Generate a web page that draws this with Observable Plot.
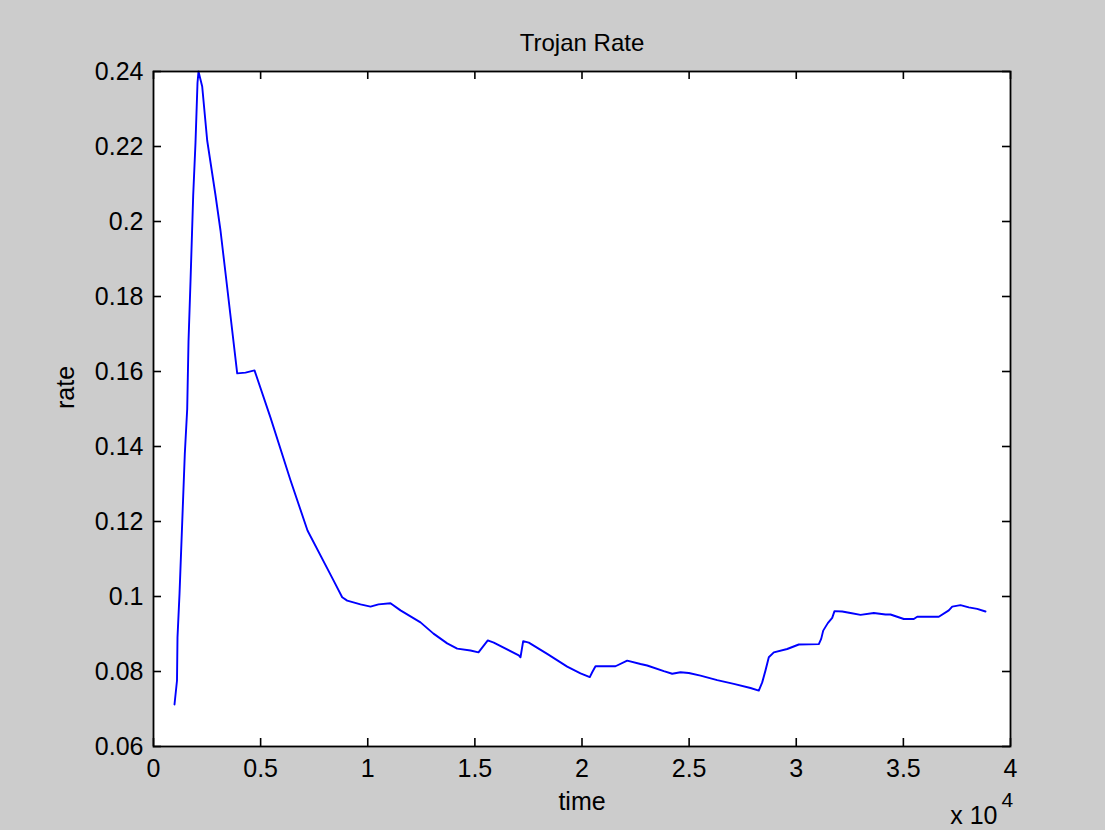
<!DOCTYPE html>
<html><head><meta charset="utf-8">
<script src="https://cdn.jsdelivr.net/npm/d3@7"></script>
<script src="https://cdn.jsdelivr.net/npm/@observablehq/plot@0.6"></script>
<style>
html,body{margin:0;padding:0;background:#cccccc;}
#chart svg{display:block;}
</style></head><body><div id="chart"></div>
<script>
const time = [980,1097,1120,1214,1461,1573,1634,1727,1853,1960,2054,2100,2273,2506,2894,3127,3407,3907,4294,4714,5461,6394,7188,8401,8807,9041,9662,10128,10502,11062,11529,12462,13069,13708,14175,14796,15169,15603,15883,17050,17129,17255,17517,18376,19309,19930,20364,20476,20630,21563,22110,22730,23043,23818,24210,24597,24985,25531,26310,27085,27864,28252,28411,28565,28719,28953,29578,30119,31053,31164,31258,31473,31678,31785,32145,32532,32999,33620,34165,34399,35020,35487,35646,36654,37121,37279,37666,38053,38445,38833];
const rate = [0.0712,0.0776,0.0891,0.1007,0.138,0.150,0.168,0.184,0.207,0.221,0.237,0.240,0.236,0.2216,0.207,0.1976,0.184,0.1595,0.1597,0.1603,0.1477,0.131,0.1176,0.1043,0.0998,0.0989,0.0979,0.0973,0.0979,0.0982,0.0963,0.0931,0.0901,0.0875,0.0861,0.0856,0.0851,0.0883,0.0877,0.0843,0.0838,0.0881,0.0877,0.0847,0.0813,0.0795,0.0785,0.0798,0.0814,0.0814,0.0829,0.0820,0.0816,0.0801,0.0794,0.0798,0.0796,0.0789,0.0777,0.0767,0.0756,0.0749,0.0771,0.0803,0.0838,0.0851,0.0860,0.0872,0.0873,0.0887,0.0909,0.0929,0.0943,0.0961,0.0960,0.0956,0.0951,0.0956,0.0952,0.0952,0.0940,0.0940,0.0946,0.0946,0.0963,0.0973,0.0977,0.0971,0.0967,0.0960];
const xTicks = [0,5000,10000,15000,20000,25000,30000,35000,40000];
const xTickLabels = ["0","0.5","1","1.5","2","2.5","3","3.5","4"];
const yTicks = [0.06,0.08,0.10,0.12,0.14,0.16,0.18,0.20,0.22,0.24];
const yTickLabels = ["0.06","0.08","0.1","0.12","0.14","0.16","0.18","0.2","0.22","0.24"];
const titleText = "Trojan Rate";
const xLabel = "time";
const yLabel = "rate";
const xExponentBase = "x 10";
const xExponent = "4";

const data = time.map((t, i) => ({time: t, rate: rate[i]}));
const W = 1105, H = 830, mL = 153, mR = 95, mT = 71, mB = 84;
const fw = W - mL - mR, fh = H - mT - mB, tick = 8;

const chart = Plot.plot({
  width: W, height: H,
  marginLeft: mL, marginRight: mR, marginTop: mT, marginBottom: mB,
  style: {background: "transparent", fontFamily: "'Liberation Sans', Arial, sans-serif", fontSize: "25px", color: "black"},
  x: {domain: [0, 40000], axis: null},
  y: {domain: [0.06, 0.24], axis: null},
  marks: [
    Plot.frame({fill: "white", stroke: null}),
    Plot.axisX(xTicks, {anchor: "bottom", tickSize: 0, tickPadding: 13, tickFormat: d => xTickLabels[xTicks.indexOf(d)], label: null, fontSize: 25}),
    Plot.axisY(yTicks, {anchor: "left", tickSize: 0, tickPadding: 10, tickFormat: d => yTickLabels[yTicks.indexOf(d)], label: null, fontSize: 25}),
    Plot.ruleX(xTicks, {x: d => d, insetTop: fh - tick, stroke: "black", strokeWidth: 1.6}),
    Plot.ruleX(xTicks, {x: d => d, insetBottom: fh - tick, stroke: "black", strokeWidth: 1.6}),
    Plot.ruleY(yTicks, {y: d => d, insetRight: fw - tick, stroke: "black", strokeWidth: 1.6}),
    Plot.ruleY(yTicks, {y: d => d, insetLeft: fw - tick, stroke: "black", strokeWidth: 1.6}),
    Plot.line(data, {x: "time", y: "rate", stroke: "#0000ff", strokeWidth: 1.9}),
    Plot.frame({stroke: "black", strokeWidth: 1.8}),
    Plot.text([titleText], {frameAnchor: "top", dy: -28, text: d => d, fontSize: 24, lineAnchor: "middle"}),
    Plot.text([xLabel], {frameAnchor: "bottom", dy: 55, text: d => d, fontSize: 25, lineAnchor: "middle"}),
    Plot.text([yLabel], {frameAnchor: "left", dx: -88, rotate: -90, text: d => d, fontSize: 25, lineAnchor: "middle"}),
    Plot.text([xExponentBase], {frameAnchor: "bottom-right", dx: -13, dy: 69, text: d => d, textAnchor: "end", lineAnchor: "middle", fontSize: 25}),
    Plot.text([xExponent], {frameAnchor: "bottom-right", dx: -9, dy: 54, text: d => d, textAnchor: "start", lineAnchor: "middle", fontSize: 21})
  ]
});
document.getElementById("chart").appendChild(chart);
</script>
</body></html>
